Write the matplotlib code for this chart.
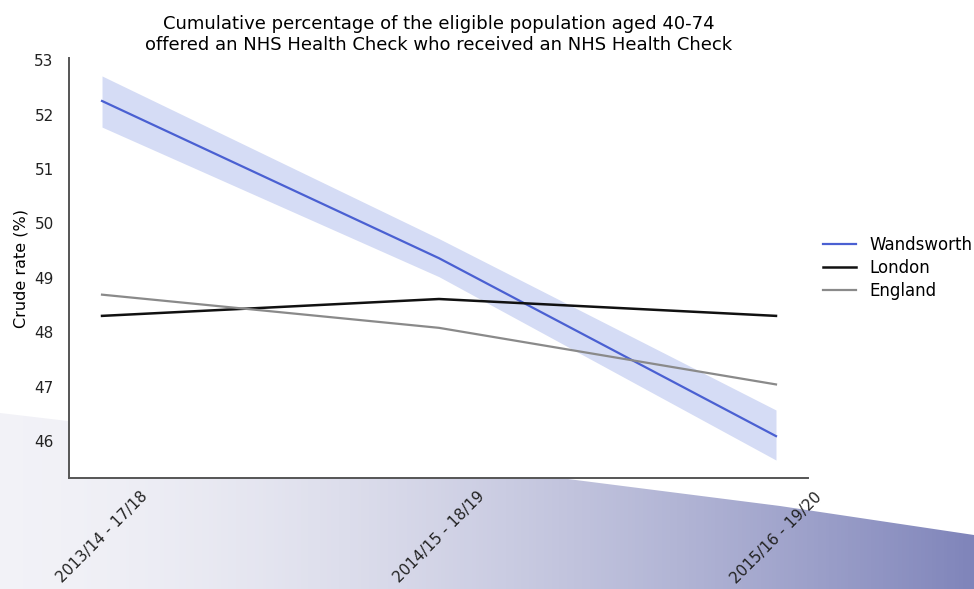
"""Cumulative NHS Health Check uptake, Wandsworth vs London vs England."""
import numpy as np
import matplotlib

matplotlib.use("Agg")
import matplotlib.pyplot as plt
from matplotlib.path import Path
from matplotlib.patches import PathPatch

periods = ["2013/14 - 17/18", "2014/15 - 18/19", "2015/16 - 19/20"]
wandsworth = [52.25, 49.36, 46.09]
wandsworth_lo = [51.77, 49.02, 45.65]
wandsworth_hi = [52.71, 49.72, 46.57]
london = [48.30, 48.61, 48.30]
england = [48.69, 48.08, 47.04]

W, H = 974, 589
fig = plt.figure(figsize=(W / 100, H / 100), dpi=100)

# slide background: gradient swoosh in the lower part
bg = fig.add_axes([0, 0, 1, 1], zorder=-1)
bg.set_xlim(0, W)
bg.set_ylim(H, 0)
bg.axis("off")
c0 = np.array([0.95, 0.95, 0.97])
c1 = np.array([0.50, 0.52, 0.73])
t = np.linspace(0, 1, 256) ** 1.6
grad = (c0[None, :] * (1 - t[:, None]) + c1[None, :] * t[:, None])[None, :, :]
im = bg.imshow(grad, extent=[0, W, H, 380], aspect="auto")
verts = [(0, 413), (280, 446), (560, 478), (780, 506), (974, 535),
         (974, H), (0, H), (0, 413)]
clip = PathPatch(Path(verts), transform=bg.transData, facecolor="none", edgecolor="none")
bg.add_patch(clip)
im.set_clip_path(clip)

ax = fig.add_axes([69 / W, 1 - 478 / H, (808 - 69) / W, (478 - 58) / H])
x = np.arange(len(periods))
ax.fill_between(x, wandsworth_lo, wandsworth_hi, color="#d5dcf5", lw=0)
ax.plot(x, wandsworth, color="#4a60d2", lw=1.6, label="Wandsworth")
ax.plot(x, london, color="#111111", lw=1.8, label="London")
ax.plot(x, england, color="#8a8a8a", lw=1.6, label="England")

ax.set_xlim(-0.098, 2.095)
ax.set_ylim(45.32, 53.04)
ax.set_yticks(range(46, 54))
ax.set_xticks(x)
ax.set_xticklabels(periods, rotation=45)
ax.tick_params(length=0, pad=11, labelsize=11, colors="#222222")
ax.tick_params(axis="x", labelsize=11, pad=8)
for s in ["top", "right"]:
    ax.spines[s].set_visible(False)
for s in ["left", "bottom"]:
    ax.spines[s].set_color("#555555")
    ax.spines[s].set_linewidth(1.4)
ax.set_ylabel("Crude rate (%)", fontsize=11.5, labelpad=4)
ax.set_title("Cumulative percentage of the eligible population aged 40-74\n"
             "offered an NHS Health Check who received an NHS Health Check",
             fontsize=13, pad=6)
ax.legend(loc="center left", bbox_to_anchor=(1.0, 0.5), frameon=False, fontsize=12,
          handlelength=2.0, labelspacing=0.3)

fig.savefig("out.png", dpi=100)
